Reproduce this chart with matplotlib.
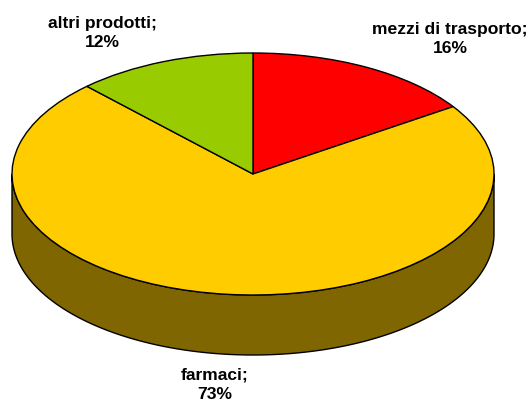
import matplotlib
matplotlib.use("Agg")
import matplotlib.pyplot as plt
import numpy as np

categories = ["mezzi di trasporto", "farmaci", "altri prodotti"]
# slice sizes, the printed labels are rounded
values = [15.6, 72.3, 12.1]
labels = [16, 73, 12]
colors = ["#ff0000", "#ffcc00", "#99cc00"]

W, H = 531, 403
cx, cy = 253, 174
rx, ry = 241, 121
depth = 60 / ry

fig = plt.figure(figsize=(W / 100, H / 100), dpi=100)
ax = fig.add_axes([0, 0, 1, 1])

# side wall first, the pie goes on top of it
t = np.linspace(np.pi, 2 * np.pi, 200)
xs = np.concatenate([np.cos(t), np.cos(t[::-1])])
ys = np.concatenate([np.sin(t) - depth, np.sin(t[::-1])])
ax.fill(xs, ys, facecolor="#806600", edgecolor="black", lw=1, zorder=1)

wedges, _ = ax.pie(values, colors=colors, startangle=90, counterclock=False,
                   radius=1, wedgeprops=dict(edgecolor="black", linewidth=1, zorder=2),
                   frame=True)

# squash the circle into an ellipse
ax.set_aspect("auto")
ax.set_xlim(-cx / rx, (W - cx) / rx)
ax.set_ylim((cy - H) / ry, cy / ry)
ax.axis("off")

label_pos = [(450, 39), (215, 385), (102, 33)]
for name, share, (px, py) in zip(categories, labels, label_pos):
    fig.text(px / W, 1 - py / H, f"{name};\n{share}%", ha="center", va="center",
             family="Liberation Sans", weight="bold", fontsize=12.6, linespacing=1.4)

fig.savefig("out.png", dpi=100)
